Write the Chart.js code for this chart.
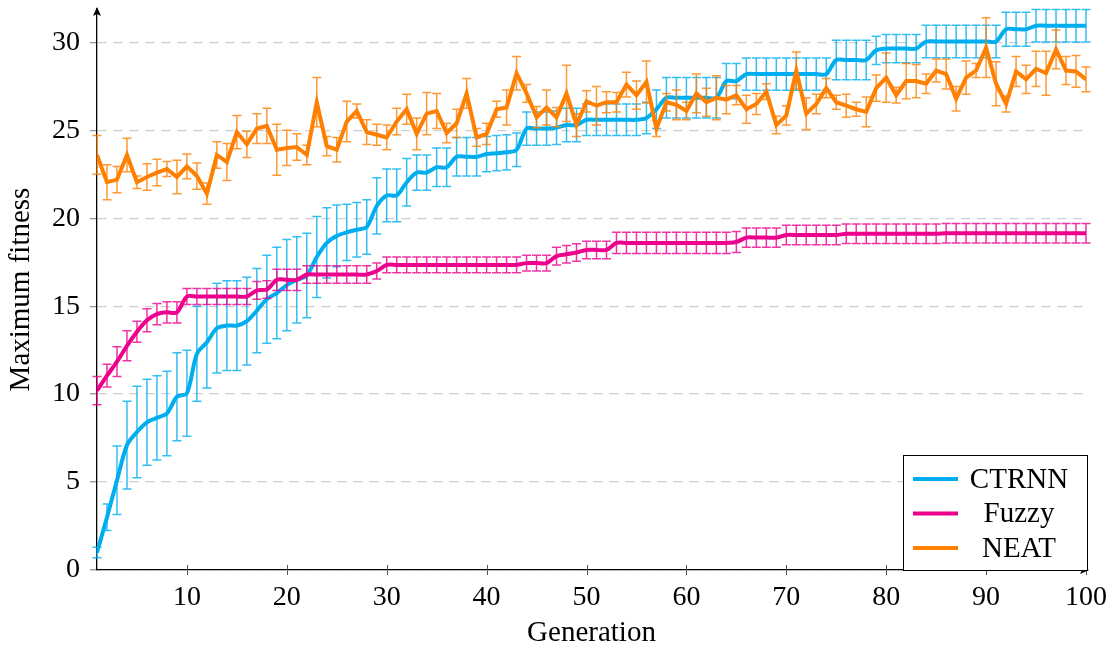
<!DOCTYPE html>
<html>
<head>
<meta charset="utf-8">
<script src="https://cdn.jsdelivr.net/npm/chart.js@4.4.1/dist/chart.umd.min.js"></script>
<style>
  html, body { margin: 0; padding: 0; background: #fff; }
</style>
</head>
<body>
<canvas id="grafico" width="1117" height="649"></canvas>
<script>
// generaciones (eje x)
var generaciones = [1,2,3,4,5,6,7,8,9,10,11,12,13,14,15,16,17,18,19,20,
  21,22,23,24,25,26,27,28,29,30,31,32,33,34,35,36,37,38,39,40,
  41,42,43,44,45,46,47,48,49,50,51,52,53,54,55,56,57,58,59,60,
  61,62,63,64,65,66,67,68,69,70,71,72,73,74,75,76,77,78,79,80,
  81,82,83,84,85,86,87,88,89,90,91,92,93,94,95,96,97,98,99,100];

var ctrnnMedia = [1.0,3.0,5.1,7.1,7.85,8.4,8.65,8.9,9.85,10.05,
  12.3,12.95,13.75,13.9,13.9,14.15,14.75,15.4,15.75,16.2,
  16.5,16.75,17.8,18.6,19.0,19.2,19.35,19.5,20.7,21.3,
  21.3,22.05,22.6,22.6,22.9,22.9,23.5,23.5,23.5,23.65,
  23.7,23.75,23.9,25.1,25.1,25.1,25.15,25.3,25.3,25.6,
  25.6,25.6,25.6,25.6,25.6,25.7,26.2,26.85,26.85,26.85,
  26.85,26.85,26.85,27.8,27.8,28.2,28.2,28.2,28.2,28.2,
  28.2,28.2,28.2,28.2,29.0,29.0,29.0,29.0,29.55,29.65,
  29.65,29.65,29.65,30.05,30.05,30.05,30.05,30.05,30.05,30.05,
  30.05,30.75,30.75,30.75,30.95,30.95,30.95,30.95,30.95,30.95];
var ctrnnError = [0.3,0.75,1.95,2.5,2.6,2.45,2.4,2.4,2.5,2.45,
  2.7,2.6,2.55,2.55,2.55,2.5,2.4,2.5,2.6,2.6,
  2.45,2.4,2.3,2.0,1.75,1.6,1.55,1.55,1.6,1.5,
  1.5,1.35,1.0,1.0,1.1,1.1,1.1,1.1,1.1,1.0,
  1.0,1.0,0.95,0.95,0.95,0.95,0.95,0.95,0.95,0.9,
  0.9,0.9,0.9,0.9,0.9,0.9,1.1,1.15,1.15,1.15,
  1.15,1.15,1.15,1.0,1.0,0.92,0.92,0.92,0.92,0.92,
  0.92,0.92,0.92,0.92,1.13,1.13,1.13,1.13,0.8,0.8,
  0.8,0.8,0.8,0.92,0.92,0.92,0.92,0.92,0.92,0.92,
  0.92,0.97,0.97,0.97,0.92,0.92,0.92,0.92,0.92,0.92];

var fuzzyMedia = [10.2,11.05,11.85,12.75,13.55,14.2,14.55,14.65,14.65,15.55,
  15.55,15.55,15.55,15.55,15.55,15.55,15.9,15.95,16.5,16.5,
  16.5,16.8,16.8,16.8,16.8,16.8,16.8,16.8,17.0,17.35,
  17.35,17.35,17.35,17.35,17.35,17.35,17.35,17.35,17.35,17.35,
  17.35,17.35,17.35,17.45,17.45,17.45,17.85,17.95,18.05,18.2,
  18.2,18.2,18.6,18.6,18.6,18.6,18.6,18.6,18.6,18.6,
  18.6,18.6,18.6,18.6,18.65,18.9,18.9,18.9,18.9,19.05,
  19.05,19.05,19.05,19.05,19.05,19.12,19.12,19.12,19.12,19.12,
  19.12,19.12,19.12,19.12,19.12,19.15,19.15,19.15,19.15,19.15,
  19.15,19.15,19.15,19.15,19.15,19.15,19.15,19.15,19.15,19.15];
var fuzzyError = [0.8,0.65,0.85,0.85,0.6,0.65,0.6,0.6,0.6,0.45,
  0.45,0.45,0.45,0.45,0.45,0.45,0.5,0.5,0.6,0.6,
  0.6,0.5,0.5,0.5,0.5,0.5,0.5,0.5,0.45,0.45,
  0.45,0.45,0.45,0.45,0.45,0.45,0.45,0.45,0.45,0.45,
  0.45,0.45,0.45,0.45,0.45,0.45,0.5,0.5,0.5,0.5,
  0.5,0.5,0.6,0.6,0.6,0.6,0.6,0.6,0.6,0.6,
  0.6,0.6,0.6,0.6,0.6,0.55,0.55,0.55,0.55,0.55,
  0.55,0.55,0.55,0.55,0.55,0.55,0.55,0.55,0.55,0.55,
  0.55,0.55,0.55,0.55,0.55,0.55,0.55,0.55,0.55,0.55,
  0.55,0.55,0.55,0.55,0.55,0.55,0.55,0.55,0.55,0.55];

var neatMedia = [23.6,22.05,22.2,23.6,22.05,22.35,22.6,22.8,22.35,22.95,
  22.4,21.4,23.6,23.2,24.9,24.2,25.1,25.25,23.9,24.0,
  24.05,23.6,26.6,24.1,23.9,25.5,26.1,24.9,24.75,24.6,
  25.5,26.2,24.8,25.95,26.1,24.85,25.4,27.1,24.6,24.8,
  26.2,26.3,28.25,27.1,25.75,26.3,25.75,27.1,25.3,26.65,
  26.4,26.6,26.6,27.6,27.0,27.75,25.1,26.6,26.45,26.1,
  27.1,26.6,26.85,26.75,27.0,26.2,26.5,27.2,25.3,25.85,
  28.4,25.95,26.5,27.4,26.6,26.4,26.2,26.05,27.4,28.0,
  27.0,27.8,27.8,27.65,28.4,28.2,26.8,28.0,28.4,29.7,
  27.65,26.5,28.35,27.9,28.5,28.25,29.6,28.4,28.35,27.9];
var neatError = [1.1,1.0,0.75,0.95,0.35,0.75,0.75,0.43,0.95,0.7,
  0.75,0.6,0.75,1.05,0.95,0.75,0.85,1.0,1.45,1.0,
  0.75,0.55,1.4,0.55,0.7,1.15,0.4,0.7,0.6,0.7,
  0.75,0.85,0.9,1.2,1.0,0.55,0.8,0.85,0.5,0.6,
  0.45,1.0,0.95,0.5,0.6,1.0,0.55,1.6,0.65,0.6,
  1.1,0.6,0.55,0.7,0.8,1.2,0.45,0.5,0.85,0.5,
  1.1,0.8,1.25,0.8,0.55,0.8,0.6,0.45,0.5,0.55,
  1.05,0.9,0.55,0.55,0.4,0.65,0.4,0.85,0.75,1.4,
  0.45,1.0,0.95,0.55,0.65,0.85,0.7,0.95,0.4,1.7,
  1.25,0.45,0.85,0.8,1.0,1.25,1.1,0.8,0.9,0.7];

var ticksX = [10,20,30,40,50,60,70,80,90,100];
var ticksY = [0,5,10,15,20,25,30];

var fuente = "'Liberation Serif', 'Times New Roman', serif";

function puntos(media) {
  return media.map((v, i) => ({x: generaciones[i], y: v}));
}

// barras de error, se dibujan justo antes de cada linea
var barrasError = {
  id: 'barrasError',
  beforeDatasetDraw(chart, args) {
    let ds = chart.data.datasets[args.index];
    if (!ds.errores) return;
    let ctx = chart.ctx;
    let x = chart.scales.x, y = chart.scales.y;
    ctx.save();
    ctx.strokeStyle = ds.colorError;
    ctx.lineWidth = 1.5;
    ds.data.forEach((p, i) => {
      let px = x.getPixelForValue(p.x);
      let arriba = y.getPixelForValue(p.y + ds.errores[i]);
      let abajo = y.getPixelForValue(p.y - ds.errores[i]);
      ctx.beginPath();
      ctx.moveTo(px, arriba); ctx.lineTo(px, abajo);
      ctx.moveTo(px - 4.5, arriba); ctx.lineTo(px + 4.5, arriba);
      ctx.moveTo(px - 4.5, abajo); ctx.lineTo(px + 4.5, abajo);
      ctx.stroke();
    });
    ctx.restore();
  }
};

// flechas de ejes, marcas del eje x y leyenda
var extras = {
  id: 'extras',
  afterDraw(chart) {
    let ctx = chart.ctx;
    let a = chart.chartArea;
    ctx.save();
    ctx.fillStyle = '#000';
    ctx.beginPath();
    ctx.moveTo(a.left, a.top - 2);
    ctx.lineTo(a.left - 4, a.top + 7);
    ctx.lineTo(a.left, a.top + 5);
    ctx.lineTo(a.left + 4, a.top + 7);
    ctx.closePath();
    ctx.fill();
    ctx.beginPath();
    ctx.moveTo(a.right + 3, a.bottom);
    ctx.lineTo(a.right - 6, a.bottom - 4);
    ctx.lineTo(a.right - 4, a.bottom);
    ctx.lineTo(a.right - 6, a.bottom + 4);
    ctx.closePath();
    ctx.fill();

    ctx.strokeStyle = '#555';
    ctx.lineWidth = 1;
    ticksX.forEach(t => {
      let px = Math.round(chart.scales.x.getPixelForValue(t)) + 0.5;
      ctx.beginPath();
      ctx.moveTo(px, a.bottom - 5);
      ctx.lineTo(px, a.bottom + 5);
      ctx.stroke();
    });

    // leyenda
    let bx = 903.5, by = 455.5, bw = 184, bh = 115;
    ctx.fillStyle = '#fff';
    ctx.fillRect(bx, by, bw, bh);
    ctx.strokeStyle = '#000';
    ctx.lineWidth = 1;
    ctx.strokeRect(bx, by, bw, bh);
    ctx.font = '29px ' + fuente;
    ctx.textAlign = 'center';
    ctx.textBaseline = 'middle';
    chart.data.datasets.forEach((ds, i) => {
      let ly = 479 + i * 34.5;
      ctx.strokeStyle = ds.borderColor;
      ctx.lineWidth = 4;
      ctx.beginPath();
      ctx.moveTo(913, ly);
      ctx.lineTo(958, ly);
      ctx.stroke();
      ctx.fillStyle = '#000';
      ctx.fillText(ds.label, 1019, ly + 1);
    });
    ctx.restore();
  }
};

var ctrnn = {
  label: 'CTRNN',
  data: puntos(ctrnnMedia),
  errores: ctrnnError,
  borderColor: '#00AEEF',
  colorError: 'rgba(0,174,239,0.8)',
  borderWidth: 4,
  tension: 0.3,
  pointRadius: 0,
  order: 3
};
var fuzzy = {
  label: 'Fuzzy',
  data: puntos(fuzzyMedia),
  errores: fuzzyError,
  borderColor: '#EC008C',
  colorError: 'rgba(236,0,140,0.8)',
  borderWidth: 4,
  tension: 0.3,
  pointRadius: 0,
  order: 2
};
var neat = {
  label: 'NEAT',
  data: puntos(neatMedia),
  errores: neatError,
  borderColor: '#FF8000',
  colorError: 'rgba(255,128,0,0.8)',
  borderWidth: 4,
  tension: 0,
  pointRadius: 0,
  order: 1
};

var grafico = new Chart(document.getElementById('grafico'), {
  type: 'line',
  data: { datasets: [ctrnn, fuzzy, neat] },
  plugins: [barrasError, extras],
  options: {
    responsive: false,
    animation: false,
    events: [],
    layout: { padding: { top: 9, right: 31, left: 0, bottom: 0 } },
    plugins: { legend: { display: false }, tooltip: { enabled: false } },
    scales: {
      x: {
        type: 'linear',
        min: 1,
        max: 100,
        afterBuildTicks: s => { s.ticks = ticksX.map(v => ({value: v})); },
        afterFit: s => { s.height = 79; s.paddingLeft = 0; s.paddingRight = 0; },
        grid: { display: false },
        border: { display: true, color: '#000', width: 1.3 },
        ticks: { color: '#000', font: { family: fuente, size: 28 }, padding: 3, maxRotation: 0, autoSkip: false },
        title: { display: true, text: 'Generation', color: '#000', font: { family: fuente, size: 29, lineHeight: 1.1 }, padding: { top: 0, bottom: 0 } }
      },
      y: {
        min: 0,
        max: 31.9,
        afterBuildTicks: s => { s.ticks = ticksY.map(v => ({value: v})); },
        afterFit: s => { s.width = 97; s.paddingTop = 0; s.paddingBottom = 0; },
        grid: { color: '#cfcfcf', lineWidth: 1.3, tickLength: 7, tickColor: '#999', tickBorderDash: [] },
        border: { display: true, color: '#000', width: 1.3, dash: [9, 7] },
        ticks: { color: '#000', font: { family: fuente, size: 28 }, padding: 10 },
        title: { display: true, text: 'Maximum fitness', color: '#000', font: { family: fuente, size: 29, lineHeight: 1.2 }, padding: { top: 4, bottom: 0 } }
      }
    }
  }
});
</script>
</body>
</html>
